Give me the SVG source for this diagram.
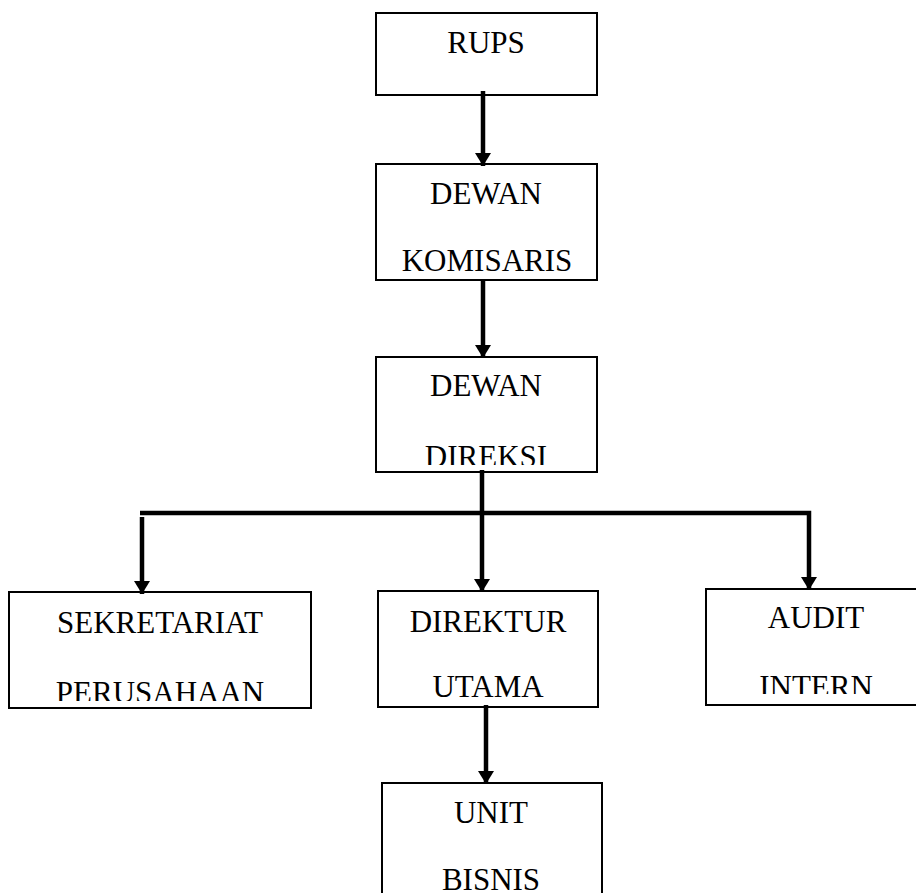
<svg xmlns="http://www.w3.org/2000/svg" width="916" height="893" viewBox="0 0 916 893">
<style>
.box{fill:#fff;stroke:#000;stroke-width:2}
.t{font-family:"Liberation Serif","Times New Roman",serif;font-size:31px;fill:#000;text-anchor:middle}
.c{stroke:#000;stroke-width:4.5;fill:none}
</style>
<defs>
<marker id="ah" markerUnits="userSpaceOnUse" markerWidth="15" markerHeight="17" refX="13" refY="8" orient="auto">
<path d="M0,0 L13,8 L0,16 z" fill="#000"/>
</marker>
<clipPath id="clipDireksi"><rect x="376" y="357" width="221" height="108"/></clipPath>
<clipPath id="clipSek"><rect x="9" y="592" width="302" height="109"/></clipPath>
<clipPath id="clipAudit"><rect x="706" y="589" width="220" height="105"/></clipPath>
</defs>
<rect width="916" height="893" fill="#fff"/>
<g id="rups">
<rect class="box" x="376" y="13" width="221" height="82"/>
<text class="t" x="486" y="53">RUPS</text>
</g>
<g id="komisaris">
<rect class="box" x="376" y="164" width="221" height="116"/>
<text class="t" x="486" y="204">DEWAN</text>
<text class="t" x="487" y="271">KOMISARIS</text>
</g>
<g id="direksi">
<rect class="box" x="376" y="357" width="221" height="115"/>
<text class="t" x="486" y="396">DEWAN</text>
<text class="t" x="486" y="467" clip-path="url(#clipDireksi)">DIREKSI</text>
</g>
<g id="sekretariat">
<rect class="box" x="9" y="592" width="302" height="116"/>
<text class="t" x="160" y="633">SEKRETARIAT</text>
<text class="t" x="160" y="703" clip-path="url(#clipSek)">PERUSAHAAN</text>
</g>
<g id="direktur">
<rect class="box" x="378" y="591" width="220" height="116"/>
<text class="t" x="488" y="632">DIREKTUR</text>
<text class="t" x="488" y="697">UTAMA</text>
</g>
<g id="audit">
<rect class="box" x="706" y="589" width="220" height="116"/>
<text class="t" x="816" y="628">AUDIT</text>
<text class="t" x="816" y="697" clip-path="url(#clipAudit)">INTERN</text>
</g>
<g id="unit">
<rect class="box" x="382" y="783" width="220" height="130"/>
<text class="t" x="491" y="823">UNIT</text>
<text class="t" x="491" y="890">BISNIS</text>
</g>
<g id="connectors">
<line class="c" x1="483" y1="91" x2="483" y2="166" marker-end="url(#ah)"/>
<line class="c" x1="483" y1="280" x2="483" y2="358" marker-end="url(#ah)"/>
<line class="c" x1="482" y1="470" x2="482" y2="592" marker-end="url(#ah)"/>
<polyline class="c" points="140,513 809,513 809,590" marker-end="url(#ah)"/>
<line class="c" x1="142" y1="517" x2="142" y2="594" marker-end="url(#ah)"/>
<line class="c" x1="486" y1="705" x2="486" y2="784" marker-end="url(#ah)"/>
</g>
</svg>
